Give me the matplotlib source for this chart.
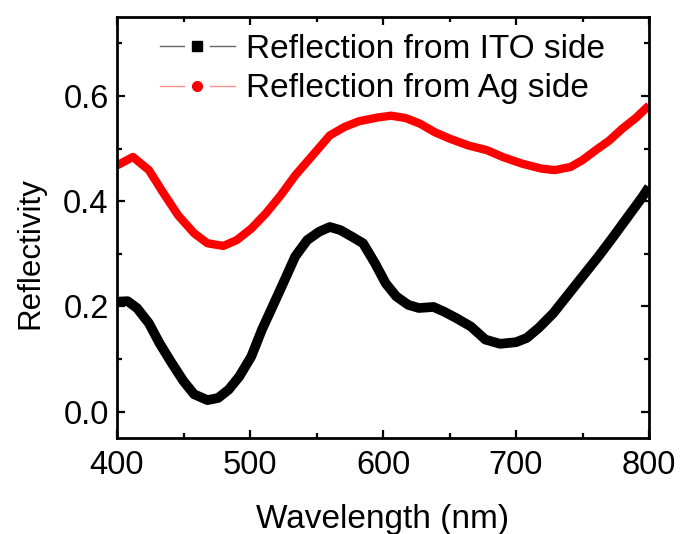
import matplotlib
matplotlib.use("Agg")
import matplotlib.pyplot as plt
from matplotlib.lines import Line2D
from matplotlib.legend_handler import HandlerBase
from matplotlib.ticker import MultipleLocator, FormatStrFormatter

plt.rcParams['font.family'] = ['Liberation Sans', 'DejaVu Sans']

wl_ito = [400, 408, 415, 424, 432, 441, 450, 458, 468, 476, 484, 492, 501, 509, 517,
          526, 534, 543, 552, 560, 568, 577, 585, 594, 602, 610, 619, 627, 638, 646,
          655, 666, 677, 688, 700, 708, 717, 728, 739, 750, 762, 773, 784, 795, 800]
r_ito = [0.209, 0.21, 0.197, 0.168, 0.13, 0.093, 0.058, 0.033, 0.022, 0.026, 0.042,
         0.067, 0.105, 0.156, 0.2, 0.25, 0.295, 0.326, 0.342, 0.351, 0.345, 0.332,
         0.32, 0.282, 0.244, 0.219, 0.203, 0.197, 0.199, 0.19, 0.178, 0.162, 0.137,
         0.129, 0.132, 0.14, 0.159, 0.187, 0.222, 0.257, 0.295, 0.332, 0.37, 0.408, 0.427]

wl_ag = [400, 412, 424, 435, 446, 458, 468, 480, 490, 501, 512, 523, 534, 546, 560,
         571, 582, 596, 606, 617, 628, 639, 650, 664, 678, 690, 705, 719, 729, 741,
         750, 760, 770, 780, 790, 800]
r_ag = [0.468, 0.484, 0.459, 0.415, 0.373, 0.339, 0.32, 0.315, 0.326, 0.348, 0.377,
        0.411, 0.449, 0.484, 0.525, 0.541, 0.552, 0.559, 0.5625, 0.558, 0.547, 0.531,
        0.519, 0.506, 0.497, 0.484, 0.471, 0.462, 0.459, 0.465, 0.478, 0.497, 0.515,
        0.538, 0.558, 0.582]

labels = ["Reflection from ITO side", "Reflection from Ag side"]


class GapHandler(HandlerBase):
    def __init__(self, mcolor, lcolor, marker, ms):
        super().__init__()
        self.mcolor = mcolor
        self.lcolor = lcolor
        self.marker = marker
        self.ms = ms

    def create_artists(self, legend, orig_handle, xdescent, ydescent, width, height,
                       fontsize, trans):
        y = height / 2 - ydescent
        x0 = -xdescent
        x1 = x0 + width
        xm = (x0 + x1) / 2
        gap = width * 0.17
        l1 = Line2D([x0, xm - gap], [y, y], color=self.lcolor, lw=1.0, transform=trans)
        l2 = Line2D([xm + gap, x1], [y, y], color=self.lcolor, lw=1.0, transform=trans)
        m = Line2D([xm], [y], marker=self.marker, color=self.mcolor, ms=self.ms,
                   linestyle='none', transform=trans)
        return [l1, l2, m]


fig = plt.figure(figsize=(6.8, 5.34), dpi=100)
ax = fig.add_axes([117 / 680, 1 - 438 / 534, 532 / 680, 421 / 534])

h1, = ax.plot(wl_ito, r_ito, color='black', lw=7, solid_joinstyle='round',
              solid_capstyle='butt')
h2, = ax.plot(wl_ag, r_ag, color='#ff0000', lw=6, solid_joinstyle='round',
              solid_capstyle='butt')

ax.set_xlim(400, 800)
ax.set_ylim(-0.05, 0.75)
ax.xaxis.set_major_locator(MultipleLocator(100))
ax.xaxis.set_minor_locator(MultipleLocator(50))
ax.yaxis.set_major_locator(MultipleLocator(0.2))
ax.yaxis.set_minor_locator(MultipleLocator(0.1))
ax.yaxis.set_major_formatter(FormatStrFormatter('%.1f'))

for s in ax.spines.values():
    s.set_linewidth(2.0)
ax.tick_params(which='both', direction='in', top=True, right=True, width=1.6)
ax.tick_params(which='major', length=6, labelsize=23.5)
ax.tick_params(axis='x', which='major', pad=9)
ax.tick_params(axis='y', which='major', pad=6)
ax.tick_params(which='minor', length=3.5)

ax.set_xlabel("Wavelength (nm)", fontsize=24, labelpad=16)
ax.set_ylabel("Reflectivity", fontsize=22.5, labelpad=13, y=0.44)

leg = ax.legend([h1, h2], labels, loc='upper left', bbox_to_anchor=(0.08, 0.96),
                frameon=False, fontsize=24, handlelength=2.25, handletextpad=0.35,
                labelspacing=0.25, borderpad=0, borderaxespad=0,
                handler_map={h1: GapHandler('black', '#666666', 's', 6.5),
                             h2: GapHandler('#ff0000', '#ff8f8f', 'o', 7)})

fig.savefig("out.png", dpi=100)
